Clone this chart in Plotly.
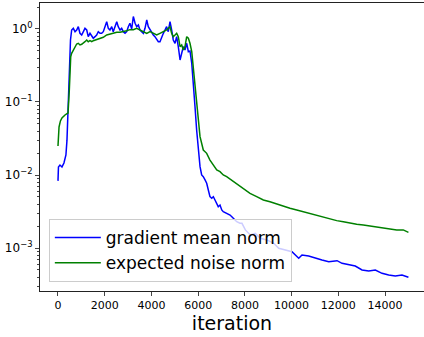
import plotly.graph_objects as go

grad_x = [0, 20, 85, 170, 255, 340, 385, 430, 470, 535, 585, 655, 730, 800, 870, 940, 1015, 1085,
          1155, 1230, 1295, 1370, 1445, 1510, 1585, 1655, 1725, 1800, 1870, 1940, 2085, 2155, 2225,
          2300, 2365, 2440, 2515, 2580, 2655, 2725, 2795, 2870, 2940, 3010, 3080, 3155, 3225, 3300,
          3370, 3440, 3510, 3580, 3655, 3725, 3800, 3865, 3940, 4010, 4080, 4150, 4225, 4295, 4365,
          4440, 4510, 4580, 4650, 4720, 4795, 4865, 4935, 5010, 5080, 5150, 5225, 5295, 5365, 5435,
          5510, 5580, 5650, 5725, 5790, 5865, 5935, 6005, 6080, 6150, 6220, 6295, 6365, 6435, 6505,
          6580, 6650, 6720, 6795, 6860, 6935, 7010, 7075, 7220, 7365, 7505, 7650, 7790, 7875, 8020,
          8230, 8445, 8660, 8945, 9235, 9450, 9730, 10015, 10305, 10445, 10730, 11015, 11300, 11590,
          11945, 12160, 12445, 12725, 13015, 13300, 13585, 13870, 14155, 14440, 14725, 15000]
grad_y = [0.0083, 0.0129, 0.0137, 0.0129, 0.0146, 0.0188, 0.030, 0.0707, 0.274, 0.707, 0.969, 1.02,
          0.918, 0.969, 1.075, 0.873, 0.828, 0.918, 1.02, 0.969, 0.785, 0.873, 0.785, 0.746, 0.785,
          0.828, 0.918, 0.873, 0.873, 0.918, 1.259, 1.02, 0.969, 1.075, 0.918, 1.075, 1.259, 1.075,
          0.969, 1.02, 0.918, 0.873, 0.918, 1.075, 1.2, 1.0, 1.48, 1.197, 1.075, 1.134, 0.969, 0.918,
          0.873, 1.02, 1.328, 1.075, 0.969, 0.873, 0.828, 0.785, 0.707, 0.670, 0.670, 0.785, 0.873,
          0.969, 1.075, 0.918, 1.259, 0.969, 0.707, 0.637, 0.785, 0.572, 0.376, 0.465, 0.572, 0.515,
          0.637, 0.489, 0.5, 0.34, 0.2, 0.0862, 0.0413, 0.022, 0.013, 0.010, 0.0095, 0.00855, 0.0077,
          0.00623, 0.00505, 0.0048, 0.00505, 0.00455, 0.0041, 0.00368, 0.00388, 0.00332, 0.00314,
          0.0030, 0.00283, 0.00255, 0.00229, 0.00218, 0.00218, 0.00177, 0.00151, 0.00159, 0.00136,
          0.00129, 0.00116, 0.00099, 0.00094, 0.00089, 0.000723, 0.0008, 0.000776, 0.000723,
          0.000685, 0.000649, 0.00067, 0.000617, 0.000598, 0.000567, 0.0005, 0.000484, 0.0005,
          0.00045, 0.000427, 0.000413, 0.000427, 0.000397]

noise_x = [0, 45, 105, 170, 300, 430, 485, 545, 585, 655, 730, 800, 870, 940, 1015, 1085, 1155,
           1230, 1295, 1370, 1445, 1510, 1655, 1800, 1940, 2085, 2225, 2365, 2515, 2655, 2795, 2940,
           3080, 3225, 3370, 3510, 3655, 3800, 3940, 4080, 4225, 4365, 4510, 4650, 4720, 4795, 4865,
           4935, 5010, 5080, 5150, 5225, 5295, 5365, 5435, 5510, 5580, 5650, 5725, 5790, 5865, 5935,
           6005, 6080, 6220, 6365, 6505, 6650, 6795, 6935, 7075, 7220, 7365, 7650, 7935, 8220, 8505,
           8790, 9075, 9360, 9645, 9930, 10220, 10500, 10790, 11075, 11360, 11645, 11930, 12215,
           12500, 12785, 13070, 13355, 13645, 13925, 14210, 14500, 14780, 15000]
noise_y = [0.0249, 0.0455, 0.055, 0.0604, 0.0664, 0.0707, 0.146, 0.417, 0.465, 0.515, 0.572, 0.623,
           0.637, 0.604, 0.617, 0.637, 0.670, 0.707, 0.670, 0.691, 0.670, 0.691, 0.722, 0.746, 0.77,
           0.828, 0.854, 0.873, 0.901, 0.901, 0.918, 0.948, 0.98, 0.98, 1.02, 0.969, 0.918, 0.873,
           0.918, 0.873, 0.828, 0.873, 0.918, 0.969, 1.02, 1.075, 0.873, 0.785, 0.828, 0.873, 0.785,
           0.572, 0.604, 0.515, 0.572, 0.785, 0.746, 0.637, 0.49, 0.305, 0.2, 0.106, 0.0567, 0.0335,
           0.022, 0.0198, 0.016, 0.0137, 0.0117, 0.0111, 0.010, 0.0095, 0.0088, 0.00753, 0.00657,
           0.00561, 0.00505, 0.00455, 0.00431, 0.00401, 0.00368, 0.0035, 0.00332, 0.00314, 0.00298,
           0.00277, 0.00263, 0.00247, 0.00237, 0.00229, 0.00218, 0.00211, 0.00207, 0.0020, 0.00192,
           0.00186, 0.00182, 0.00177, 0.00177, 0.00164]

x_ticks = [0, 2000, 4000, 6000, 8000, 10000, 12000, 14000]
x_tick_labels = ["0", "2000", "4000", "6000", "8000", "10000", "12000", "14000"]
y_ticks = [1e-3, 1e-2, 1e-1, 1]
y_tick_labels = ["10<sup>−3</sup>", "10<sup>−2</sup>", "10<sup>−1</sup>", "10<sup>0</sup>"]
y_minor = [m * 10 ** e for e in (-4, -3, -2, -1, 0) for m in range(2, 10)]

fig = go.Figure()
fig.add_trace(go.Scatter(x=grad_x, y=grad_y, mode="lines", name="gradient mean norm",
                         line=dict(color="#0000ff", width=1.5)))
fig.add_trace(go.Scatter(x=noise_x, y=noise_y, mode="lines", name="expected noise norm",
                         line=dict(color="#008000", width=1.5)))

fig.update_layout(
    width=424, height=337,
    margin=dict(l=40, r=0, t=3, b=46, autoexpand=False),
    paper_bgcolor="white", plot_bgcolor="white",
    font=dict(family="DejaVu Sans", color="black", size=11),
    showlegend=True,
    legend=dict(x=0.023, y=0.031, xanchor="left", yanchor="bottom",
                bgcolor="rgba(255,255,255,0.8)", bordercolor="#cccccc", borderwidth=1,
                font=dict(size=17, family="DejaVu Sans"), tracegroupgap=0, itemwidth=46),
)
fig.update_xaxes(
    range=[-770, 15667], tickvals=x_ticks, ticktext=x_tick_labels, ticks="outside", ticklen=4,
    showgrid=False, zeroline=False, showline=True, linecolor="#222222", linewidth=1.2,
    mirror=True, automargin=False, tickfont=dict(size=11),
    title=dict(text="iteration", font=dict(size=19), standoff=0),
)
fig.update_yaxes(
    type="log", range=[-3.589, 0.356], tickvals=y_ticks, ticktext=y_tick_labels,
    ticks="outside", ticklen=4, showgrid=False, zeroline=False, automargin=False,
    showline=True, linecolor="#222222", linewidth=1.2, tickfont=dict(size=12),
    minor=dict(tickvals=y_minor, ticks="outside", ticklen=2, showgrid=False),
)

fig.write_html("out.html", config={"displayModeBar": False},
               post_script="document.body.style.margin='0px';")
